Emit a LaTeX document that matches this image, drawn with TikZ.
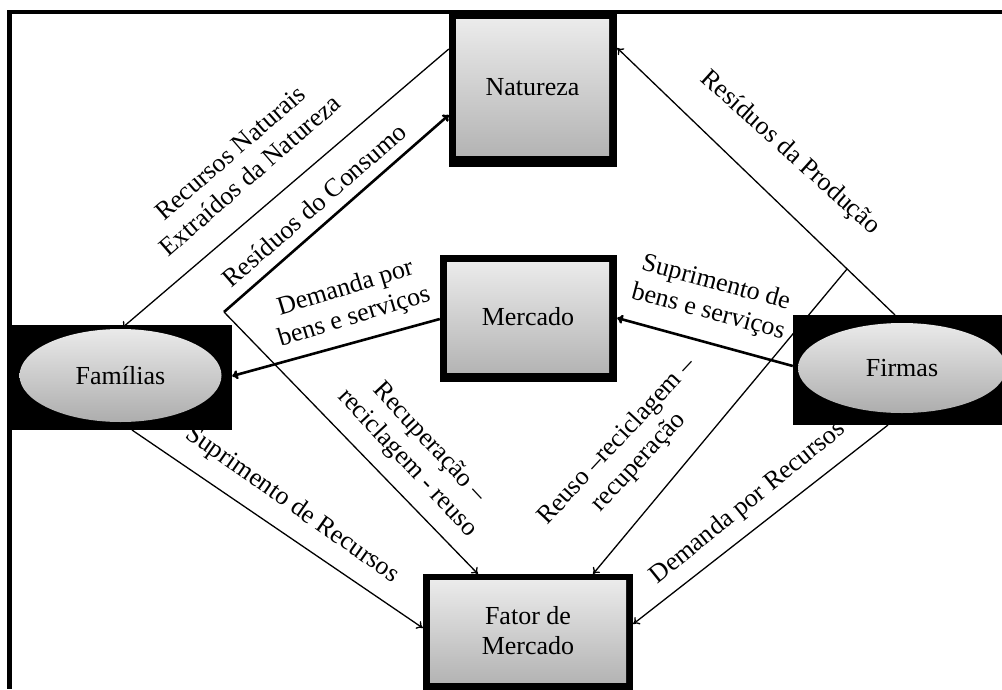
\documentclass[tikz,border=0pt]{standalone}
\usepackage{fontspec}
\setmainfont{Liberation Serif}
\usetikzlibrary{arrows.meta,shapes.geometric,calc}
\definecolor{boxtop}{HTML}{EBEBEB}
\definecolor{boxbot}{HTML}{B4B4B4}
\definecolor{elltop}{HTML}{EAEAEA}
\definecolor{ellbot}{HTML}{ADADAD}
\begin{document}
\begin{tikzpicture}[x=1pt,y=-1pt,
  font=\fontsize{26}{30}\selectfont,
  outer/.style={fill=black, draw=none, inner sep=0pt, rectangle},
  gbox/.style={rectangle, draw=none, inner sep=0pt, top color=boxtop, bottom color=boxbot, align=center},
  gell/.style={ellipse, draw=none, inner sep=0pt, top color=elltop, bottom color=ellbot},
  flowthin/.style={line width=1.3pt, -{To[length=6pt,width=9pt]}},
  flowthick/.style={line width=2.6pt, -{To[length=6pt,width=9pt]}},
  lbl/.style={align=center, inner sep=0pt}
]
\useasboundingbox (0,0) rectangle (1002,689);
% page frame
\draw[line width=4pt] (7,12) -- (1002,12);
\draw[line width=5pt] (9.5,10) -- (9.5,689);

% Natureza
\node[outer, minimum width=168pt, minimum height=154pt] (natO) at (533,90) {};
\node[gbox, minimum width=153pt, minimum height=136pt] (nat) at (532.5,87) {Natureza};
% Mercado
\node[outer, minimum width=177pt, minimum height=127pt] (merO) at (528.5,318.5) {};
\node[gbox, minimum width=162pt, minimum height=110pt] (mer) at (528,317) {Mercado};
% Fator de Mercado
\node[outer, minimum width=210pt, minimum height=118pt] (fatO) at (528,633) {};
\node[gbox, minimum width=196pt, minimum height=102pt] (fat) at (528,631) {Fator de\\Mercado};
% Familias
\node[outer, minimum width=225pt, minimum height=105pt] (famO) at (119.5,377.5) {};
\node[gell, minimum width=202pt, minimum height=93pt] (fam) at (120.5,375.5) {Famílias};
% Firmas
\node[outer, minimum width=212pt, minimum height=110pt] (firO) at (899,370) {};
\node[gell, minimum width=208pt, minimum height=90pt] (fir) at (902,368) {Firmas};

% connector end points on the node borders
\coordinate (natL1) at (natO.west |- 0,49);
\coordinate (natL2) at (natO.west |- 0,115);
\coordinate (natR) at (natO.east |- 0,48);
\coordinate (famT) at (122,328);
\coordinate (famTR) at (224,312);
\coordinate (famR) at (famO.east |- 0,376);
\coordinate (famB) at (132,430);
\coordinate (merL) at (merO.west |- 0,319);
\coordinate (merR) at (merO.east |- 0,318);
\coordinate (firT) at (895,315);
\coordinate (firL) at (firO.west |- 0,366);
\coordinate (firB) at (888,425);
\coordinate (split) at (847,269);
\coordinate (fatT1) at (478,574);
\coordinate (fatT2) at (593,574);
\coordinate (fatL) at (fatO.west |- 0,628);
\coordinate (fatR) at (fatO.east |- 0,624);

% connectors
\draw[flowthin] (natL1) -- (famT);
\draw[flowthick] (famTR) -- (natL2);
\draw[flowthin] (famTR) -- (fatT1);
\draw[flowthin] (firT) -- (natR);
\draw[flowthin] (split) -- (fatT2);
\draw[flowthick] (merL) -- (famR);
\draw[flowthick] (firL) -- (merR);
\draw[flowthin] (famB) -- (fatL);
\draw[flowthin] (firB) -- (fatR);

% labels
\node[lbl, rotate=41] (l1) at (240,164) {Recursos Naturais\\Extraídos da Natureza};
\node[lbl, rotate=41] (l2) at (314,205) {Resíduos do Consumo};
\node[lbl, rotate=-42] (l3) at (790,153) {Resíduos da Produção};
\node[lbl, rotate=-15] (l4) at (712,298) {Suprimento de\\bens e serviços};
\node[lbl, rotate=17] (l5) at (350,303) {Demanda por\\bens e serviços};
\node[lbl, rotate=-47] (l6) at (418,453) {Recuperação –\\reciclagem - reuso};
\node[lbl, rotate=47] (l7) at (628,452) {Reuso –reciclagem –\\recuperação};
\node[lbl, rotate=-35] (l8) at (292,505) {Suprimento de Recursos};
\node[lbl, rotate=39] (l9) at (748,503) {Demanda por Recursos};
\end{tikzpicture}
\end{document}
